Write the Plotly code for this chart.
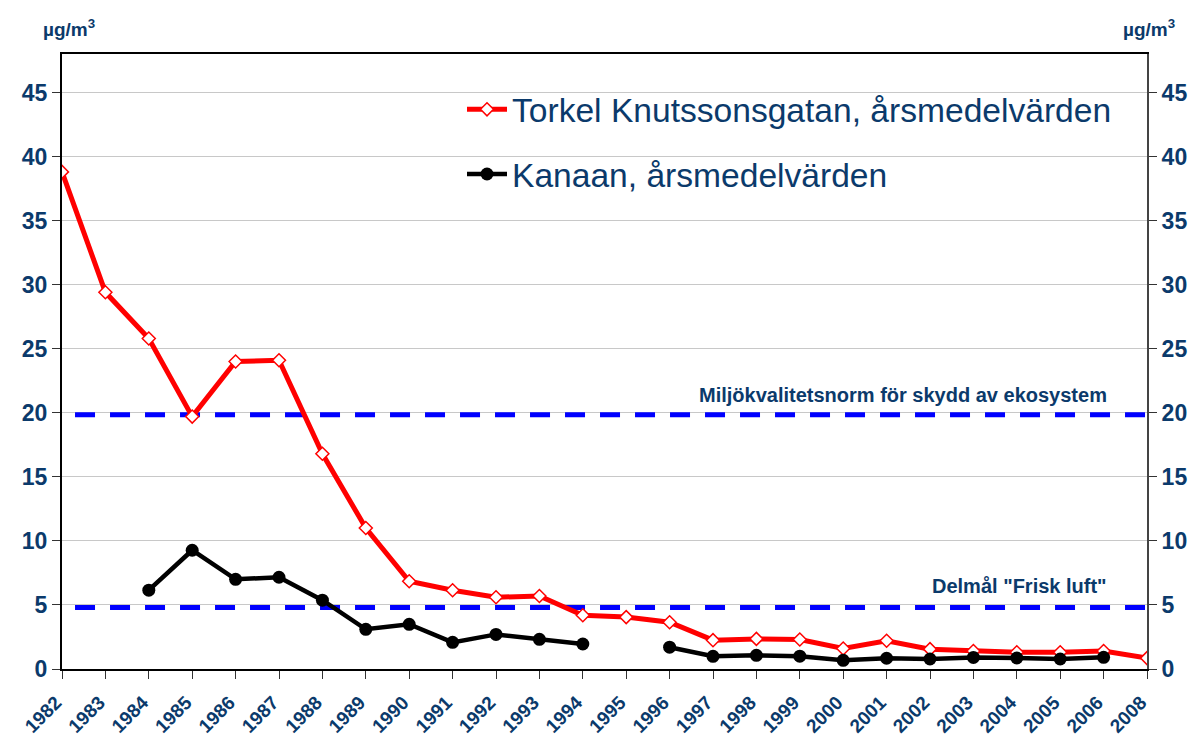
import plotly.graph_objects as go

years = ["1982", "1983", "1984", "1985", "1986", "1987", "1988", "1989", "1990", "1991",
         "1992", "1993", "1994", "1995", "1996", "1997", "1998", "1999", "2000", "2001",
         "2002", "2003", "2004", "2005", "2006", "2008"]
idx = list(range(len(years)))

torkel = [38.8, 29.4, 25.8, 19.7, 24.0, 24.1, 16.8, 11.0, 6.85, 6.15,
          5.6, 5.7, 4.2, 4.05, 3.65, 2.25, 2.35, 2.3, 1.6, 2.2,
          1.55, 1.4, 1.3, 1.3, 1.4, 0.85]
kanaan = [None, None, 6.15, 9.27, 7.0, 7.16, 5.37, 3.1, 3.49, 2.08,
          2.7, 2.32, 1.95, None, 1.7, 0.99, 1.07, 1.0, 0.68, 0.84,
          0.78, 0.9, 0.86, 0.78, 0.91, None]

norm_levels = [19.85, 4.8]
norm_labels = ["Miljökvalitetsnorm för skydd av ekosystem", 'Delmål "Frisk luft"']
norm_label_y = [21.4, 6.45]
y_ticks = [0, 5, 10, 15, 20, 25, 30, 35, 40, 45]

NAVY = "#0B3A6B"
FONT = "Arial, Liberation Sans, sans-serif"

L, R, T, B = 62, 1147, 54, 669
W, H = 1192, 743
def px_x(p):
    return (p - L) / (R - L)
def px_y(p):
    return (B - p) / (B - T)

fig = go.Figure()

for lvl in norm_levels:
    fig.add_trace(go.Scatter(
        x=[0.3, idx[-1]], y=[lvl, lvl], mode="lines",
        line=dict(color="#0000FF", width=5, dash="20px,15px"),
        showlegend=False, hoverinfo="skip"))

fig.add_trace(go.Scatter(
    x=idx, y=torkel, mode="lines+markers",
    name="Torkel Knutssonsgatan, årsmedelvärden",
    line=dict(color="#FF0000", width=5),
    marker=dict(symbol="diamond", size=10, color="white",
                line=dict(color="#FF0000", width=1.5)),
    legendgroup="a"))

fig.add_trace(go.Scatter(
    x=idx, y=kanaan, mode="lines+markers",
    name="Kanaan, årsmedelvärden",
    line=dict(color="black", width=4.5),
    marker=dict(symbol="circle", size=13, color="black"),
    connectgaps=False, legendgroup="b"))

# invisible trace for right axis
fig.add_trace(go.Scatter(x=[idx[0]], y=[0], yaxis="y2", mode="markers",
                         marker=dict(opacity=0), showlegend=False, hoverinfo="skip"))

for txt, yy in zip(norm_labels, norm_label_y):
    fig.add_annotation(x=px_x(1109), xref="paper", y=yy, yref="y",
                       text=txt, showarrow=False, xanchor="right", yanchor="middle",
                       font=dict(family=FONT, size=20, color=NAVY, weight="bold"))

for xp in [px_x(41), px_x(1121)]:
    fig.add_annotation(x=xp, xref="paper", y=px_y(28), yref="paper",
                       text="µg/m<sup>3</sup>", showarrow=False,
                       xanchor="left", yanchor="middle",
                       font=dict(family=FONT, size=19, color=NAVY, weight="bold"))

# white legend backing box (covers gridlines behind the legend)
fig.add_shape(type="rect", xref="paper", yref="paper",
              x0=px_x(447), x1=px_x(1130), y0=px_y(210), y1=px_y(72),
              fillcolor="white", line=dict(width=0), layer="between")

fig.update_layout(
    width=W, height=H,
    margin=dict(l=L, r=W - R, t=T, b=H - B),
    plot_bgcolor="white", paper_bgcolor="white",
    font=dict(family=FONT, color=NAVY),
    xaxis=dict(range=[0, idx[-1]], tickmode="array", tickvals=idx, ticktext=years,
               tickangle=-45, tickfont=dict(family=FONT, size=19, color=NAVY, weight="bold"),
               ticklabelstandoff=5, ticklabelshift=-6,
               showgrid=False, zeroline=False, showline=True, linecolor="black",
               linewidth=2, ticks="outside", ticklen=8, tickcolor="#333", mirror=True,
               automargin=False),
    yaxis=dict(range=[0, 48], tickmode="array", tickvals=y_ticks,
               tickfont=dict(family=FONT, size=23, color=NAVY, weight="bold"),
               showgrid=True, gridcolor="#C8C8C8", gridwidth=1, zeroline=False,
               showline=True, linecolor="black", linewidth=2,
               ticks="outside", ticklen=8, tickcolor="#333", automargin=False),
    yaxis2=dict(range=[0, 48], tickmode="array", tickvals=y_ticks, overlaying="y",
                side="right", anchor="x",
                tickfont=dict(family=FONT, size=23, color=NAVY, weight="bold"),
                showgrid=False, zeroline=False, showline=True, linecolor="#444",
                linewidth=2, ticks="outside", ticklen=8, tickcolor="#333",
                automargin=False),
    legend=dict(x=px_x(462), y=px_y(81), xanchor="left", yanchor="top",
                bgcolor="rgba(0,0,0,0)", borderwidth=0, traceorder="grouped",
                tracegroupgap=18, itemwidth=40,
                font=dict(family=FONT, size=33.6, color=NAVY)),
    showlegend=True,
)

fig.write_html("out.html", config={"displayModeBar": False},
               post_script="document.body.style.margin='0';")
